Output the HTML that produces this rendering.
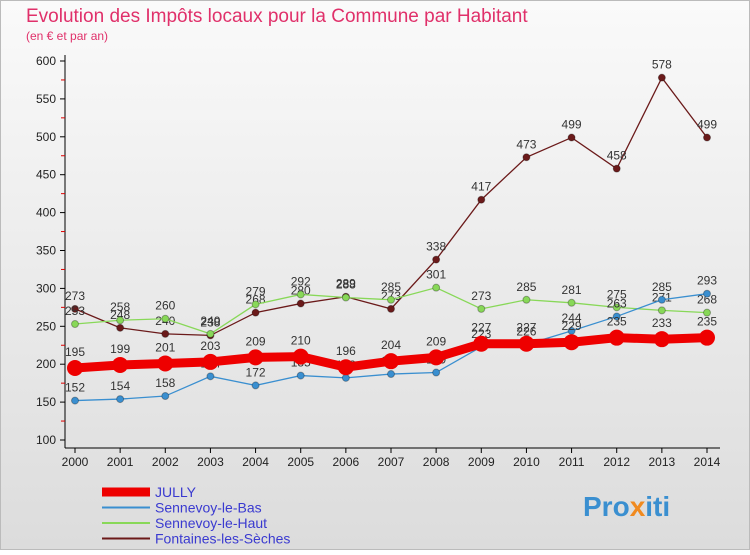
<!DOCTYPE html>
<html><head><meta charset="utf-8"><style>
body{margin:0;width:750px;height:550px;overflow:hidden;font-family:"Liberation Sans",sans-serif}
svg text{font-family:"Liberation Sans",sans-serif}
</style></head><body>
<svg id="c" width="750" height="550" xmlns="http://www.w3.org/2000/svg">
<defs><linearGradient id="bg" x1="0" y1="0" x2="0" y2="1"><stop offset="0" stop-color="#fafafa"/><stop offset="1" stop-color="#dcdcdc"/></linearGradient></defs>
<rect x="0.5" y="0.5" width="749" height="549" fill="url(#bg)" stroke="#bbb"/>
<text x="26" y="22" font-size="19" fill="#e0306a">Evolution des Impôts locaux pour la Commune par Habitant</text>
<text x="26" y="40" font-size="12" fill="#e0306a">(en € et par an)</text>
<g id="axes"></g><g id="series"></g><g id="legend"></g>
<text x="583" y="516" font-size="28" font-weight="bold" fill="#3a8fd0">Pro<tspan fill="#f08a20">x</tspan>iti</text>
</svg>
<script>
const years=[2000,2001,2002,2003,2004,2005,2006,2007,2008,2009,2010,2011,2012,2013,2014];
const yTicks=[100,150,200,250,300,350,400,450,500,550,600];
const jully=[195,199,201,203,209,210,196,204,209,227,227,229,235,233,235];
const bas=[152,154,158,184,172,185,182,187,189,223,226,244,263,285,293];
const haut=[253,258,260,240,279,292,288,285,301,273,285,281,275,271,268];
const fontaines=[273,248,240,238,268,280,289,273,338,417,473,499,458,578,499];
const seriesNames=["JULLY","Sennevoy-le-Bas","Sennevoy-le-Haut","Fontaines-les-Sèches"];
const NS="http://www.w3.org/2000/svg";
const X=i=>75+i*(707-75)/14;
const Y=v=>440-(v-100)*(440-61)/500;
function mk(tag,attrs,parent){const e=document.createElementNS(NS,tag);for(const k in attrs)e.setAttribute(k,attrs[k]);parent.appendChild(e);return e;}
const ax=document.getElementById('axes');
let e=mk('line',{x1:65,y1:55,x2:65,y2:448,stroke:'#000'},ax);


e=mk('line',{x1:65,y1:448,x2:720,y2:448,stroke:'#000'},ax);


yTicks.forEach((t,i)=>{
 e=mk('line',{x1:60,y1:Y(t),x2:65,y2:Y(t),stroke:'#000'},ax);
 
 
 if(i<yTicks.length-1){e=mk('line',{x1:61,y1:Y(t+25),x2:65,y2:Y(t+25),stroke:'#d00'},ax);
 
 }
 e=mk('text',{x:56,y:Y(t)+4,'font-size':12,'text-anchor':'end',fill:'#222'},ax);e.textContent=t;
 
 
});
years.forEach((y,i)=>{
 e=mk('line',{x1:X(i),y1:448,x2:X(i),y2:453,stroke:'#000'},ax);
 
 
 e=mk('text',{x:X(i),y:466,'font-size':12,'text-anchor':'middle',fill:'#222'},ax);e.textContent=y;
 
 
});
const sg=document.getElementById('series');
const defs=[[fontaines,'#6b1a1a',1.3,3.5,'fontaines'],[haut,'#88d858',1.3,3.5,'sennevoy-le-haut'],[bas,'#3a8fd0',1.3,3.5,'sennevoy-le-bas'],[jully,'#ee0000',9,8,'jully']];
defs.forEach(([d,c,w,r,n])=>{
 const g=mk('g',{},sg);
 
 
 const p=mk('polyline',{points:d.map((v,i)=>X(i)+','+Y(v)).join(' '),fill:'none',stroke:c,'stroke-width':w},g);
 
 
 d.forEach((v,i)=>{
  const m=mk('circle',{cx:X(i),cy:Y(v),r:r,fill:c,stroke:r>5?'none':'rgba(0,0,0,0.3)'},g);
  
  
  const t=mk('text',{x:X(i),y:Y(v)-(r>5?12:9),'font-size':12,'text-anchor':'middle',fill:'#333'},g);t.textContent=v;
  
  
 });
});
const lg=document.getElementById('legend');
const lc=['#ee0000','#3a8fd0','#88d858','#6b1a1a'],lw=[9,2,2,2];
seriesNames.forEach((n,i)=>{
 const y=492+i*15.5;
 e=mk('line',{x1:102,y1:y,x2:150,y2:y,stroke:lc[i],'stroke-width':lw[i]},lg);
 
 
 e=mk('text',{x:155,y:y+5,'font-size':14,fill:'#3a3ad0'},lg);e.textContent=n;
 
 
});
</script>
</body></html>
